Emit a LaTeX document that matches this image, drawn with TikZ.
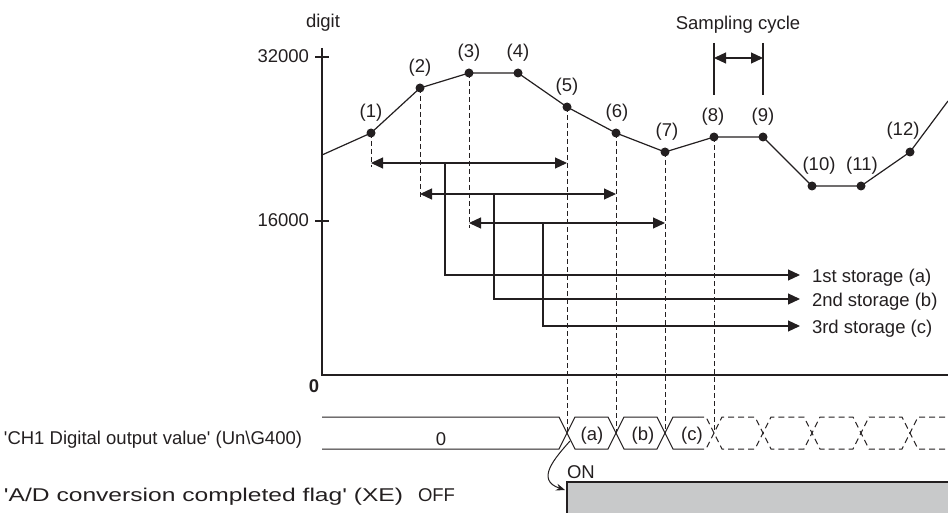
\documentclass[tikz,border=0pt]{standalone}
\usepackage{fontspec}
\setmainfont{Liberation Sans}
\usetikzlibrary{arrows.meta}
\definecolor{ink}{HTML}{231F20}
\definecolor{flaggray}{HTML}{C8C9CA}
\begin{document}
\begin{tikzpicture}[x=1pt,y=-1pt,
  font=\fontsize{18.5}{22}\selectfont, text=ink,
  every node/.style={inner sep=0pt, outer sep=0pt},
  curve/.style={draw=ink, line width=1.2pt, line join=round},
  axisline/.style={draw=ink, line width=1.2pt},
  guide/.style={draw=ink, line width=0.9pt, dash pattern=on 5pt off 3pt},
  pt/.style={circle, fill=ink, minimum size=9pt},
  lbl/.style={anchor=base},
  spanarrow/.style={draw=ink, line width=1.2pt, {Triangle[length=12pt,width=11pt]}-{Triangle[length=12pt,width=11pt]}},
  feed/.style={draw=ink, line width=1.2pt, -{Triangle[length=12pt,width=11pt]}},
  bus/.style={draw=ink, line width=1pt},
  busdash/.style={draw=ink, line width=1pt, dash pattern=on 6pt off 4pt},
]
\useasboundingbox (0,0) rectangle (948,513);

% axes
\coordinate (ytop) at (322,48);
\coordinate (orig) at (322,375);
\coordinate (xend) at (948,375);
\draw[axisline] (ytop) -- (orig) -- (xend);
\draw[axisline] (315,57) -- (329,57);
\draw[axisline] (315,221) -- (329,221);
\node[anchor=base east] (t32) at (309,63) {32000};
\node[anchor=base east] (t16) at (309,227) {16000};
\node[anchor=base] (t0) at (314,392) {\bfseries 0};
\node[anchor=base west] (digit) at (306,28) {digit};

% points (positions only for guides first)
\foreach \i/\x/\y in {1/371/133,2/420/88,3/469/73,4/518/73,5/567/107,6/616/133,7/665/152,8/714/137,9/763/137,10/812/186,11/861/186,12/910/152}
  \coordinate (q\i) at (\x,\y);

% guides
\coordinate (g1) at (371,167);
\coordinate (g2) at (420,198);
\coordinate (g3) at (469,228);
\coordinate (x5) at (567,433);
\coordinate (x6) at (616,433);
\coordinate (x7) at (665,433);
\coordinate (x8) at (714,433);
\draw[guide] (q1) -- (g1);
\draw[guide] (q2) -- (g2);
\draw[guide] (q3) -- (g3);
\draw[guide] (q5) -- (x5);
\draw[guide] (q6) -- (x6);
\draw[guide] (q7) -- (x7);
\draw[guide] (q8) -- (x8);

% curve
\coordinate (cstart) at (322,155);
\coordinate (cend) at (948,101);
\draw[curve] (cstart) -- (q1) -- (q2) -- (q3) -- (q4) -- (q5) -- (q6) -- (q7) -- (q8) -- (q9) -- (q10) -- (q11) -- (q12) -- (cend);
\foreach \i in {1,...,12} \node[pt] (p\i) at (q\i) {};

% labels
\foreach \i/\x/\y in {1/371/118,2/420/73,3/469/58,4/518/58,5/567/92,6/617/118,7/667/137,8/713/122,9/763/122,10/819/171,11/862/171,12/903/136}
  \node[lbl] (l\i) at (\x,\y) {(\i)};

% sampling cycle
\coordinate (sa) at (714,43); \coordinate (sb) at (714,95);
\coordinate (sc) at (763,43); \coordinate (sd) at (763,95);
\coordinate (se) at (714,58); \coordinate (sf) at (763,58);
\draw[axisline] (sa) -- (sb);
\draw[axisline] (sc) -- (sd);
\draw[spanarrow] (se) -- (sf);
\node[anchor=base] (samp) at (738,30) {Sampling cycle};

% span arrows
\coordinate (a1l) at (371,163); \coordinate (a1r) at (567,163);
\coordinate (a2l) at (420,194); \coordinate (a2r) at (616,194);
\coordinate (a3l) at (469,223); \coordinate (a3r) at (665,223);
\draw[spanarrow] (a1l) -- (a1r);
\draw[spanarrow] (a2l) -- (a2r);
\draw[spanarrow] (a3l) -- (a3r);

% storage
\coordinate (b1) at (445,163); \coordinate (e1) at (800,275);
\coordinate (b2) at (494,194); \coordinate (e2) at (800,299);
\coordinate (b3) at (543,223); \coordinate (e3) at (800,326);
\draw[feed] (b1) |- (e1);
\draw[feed] (b2) |- (e2);
\draw[feed] (b3) |- (e3);
\node[anchor=base west] (s1) at (812,282) {1st storage (a)};
\node[anchor=base west] (s2) at (812,306) {2nd storage (b)};
\node[anchor=base west] (s3) at (812,333) {3rd storage (c)};

% bus
\draw[bus] (322,417) -- (559,417) -- (575,449) -- (608,449) -- (624,417) -- (657,417) -- (673,449) -- (698,449);
\draw[bus] (322,449) -- (559,449) -- (575,417) -- (608,417) -- (624,449) -- (657,449) -- (673,417) -- (698,417);
\draw[busdash] (698,417) -- (706,417) -- (722,449) -- (755,449) -- (771,417) -- (804,417) -- (820,449) -- (853,449) -- (869,417) -- (902,417) -- (918,449) -- (948,449);
\draw[busdash] (698,449) -- (706,449) -- (722,417) -- (755,417) -- (771,449) -- (804,449) -- (820,417) -- (853,417) -- (869,449) -- (902,449) -- (918,417) -- (948,417);
\node[anchor=base] (v0) at (441,445) {0};
\node[anchor=base] (va) at (592,440) {(a)};
\node[anchor=base] (vb) at (643,440) {(b)};
\node[anchor=base] (vc) at (692,440) {(c)};

% flag
\fill[flaggray] (567,482) rectangle (948,513);
\draw[axisline] (567,513) -- (567,482) -- (948,482);
\coordinate (ca) at (570,441);
\coordinate (cb) at (565,490);
\draw[draw=ink, line width=1pt, -{Stealth[length=9pt,width=7pt]}] (ca) .. controls (555,458) and (535,480) .. (cb);
\node[anchor=base west] (on) at (567,478) {ON};
\node[anchor=base west] (off) at (418,501) {OFF};

% row labels
\node[anchor=base west] (chl) at (4,444) {\textquotesingle CH1 Digital output value\textquotesingle{} (Un\textbackslash G400)};
\node[anchor=base west] (adl) at (4,501) {\scalebox{1.33}[1]{\textquotesingle A/D conversion completed flag\textquotesingle{} (XE)}};
\end{tikzpicture}
\end{document}
